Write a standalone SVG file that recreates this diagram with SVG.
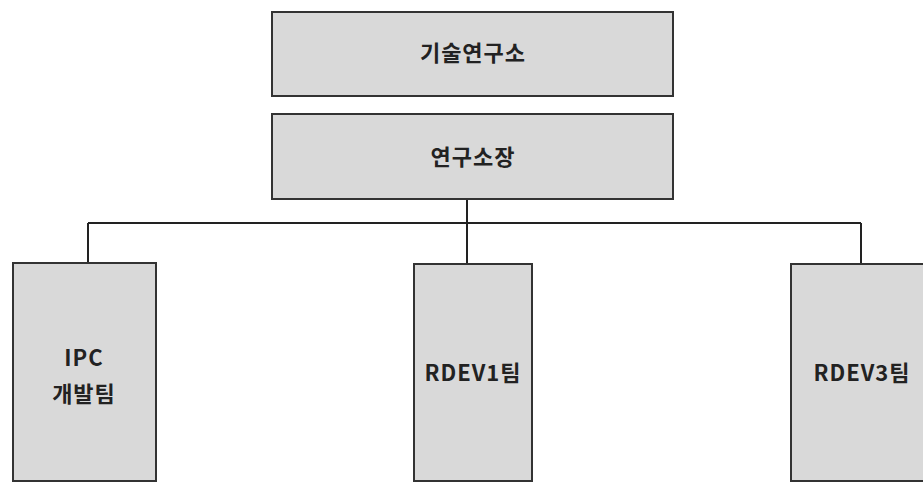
<svg xmlns="http://www.w3.org/2000/svg" width="923" height="483" viewBox="0 0 923 483">
<style>
.box{fill:#d9d9d9;stroke:#333;stroke-width:2}
.lbl{font-family:"Noto Sans CJK KR","Noto Sans",sans-serif;font-weight:bold;font-size:22px;fill:#222;text-anchor:middle;letter-spacing:1px}
.con{fill:none;stroke:#222;stroke-width:2}
</style>
<rect width="923" height="483" fill="#fff"/>
<g id="connectors">
<path class="con" d="M467 199V223M88 223H861M88 223V263M467 223V264M861 223V264"/>
</g>
<g id="n-lab">
<rect class="box" x="272" y="12" width="401" height="84"/>
<text class="lbl" x="473" y="61">기술연구소</text>
</g>
<g id="n-director">
<rect class="box" x="272" y="114" width="401" height="85"/>
<text class="lbl" x="473" y="165">연구소장</text>
</g>
<g id="n-ipc">
<rect class="box" x="13" y="263" width="143" height="218"/>
<text class="lbl" x="84" y="366">IPC</text>
<text class="lbl" x="84" y="402">개발팀</text>
</g>
<g id="n-rdev1">
<rect class="box" x="414" y="264" width="118" height="217"/>
<text class="lbl" x="473" y="381">RDEV1팀</text>
</g>
<g id="n-rdev3">
<rect class="box" x="791" y="264" width="142" height="217"/>
<text class="lbl" x="862" y="381">RDEV3팀</text>
</g>
</svg>
